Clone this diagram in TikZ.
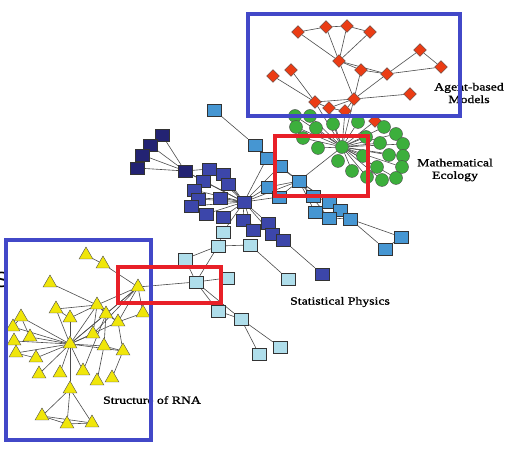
\documentclass[tikz,border=0pt]{standalone}
\usepackage{fontspec}
\setmainfont{Liberation Serif}
\newfontfamily\labelfont[FakeStretch=1.25,FakeBold=1.2]{Liberation Serif}
\newfontfamily\slidefont{Liberation Sans}
\usetikzlibrary{shapes.geometric,backgrounds}
\definecolor{boxblue}{RGB}{66,72,200}
\definecolor{boxred}{RGB}{232,32,40}
\definecolor{agentred}{RGB}{235,60,20}
\definecolor{ecogreen}{RGB}{60,175,60}
\definecolor{navyblue}{RGB}{35,35,115}
\definecolor{midblue}{RGB}{60,70,170}
\definecolor{skyblue}{RGB}{70,150,210}
\definecolor{paleblue}{RGB}{175,222,235}
\definecolor{rnayellow}{RGB}{240,230,10}

\begin{document}
\begin{tikzpicture}[x=1pt,y=-1pt,
    agent/.style={diamond,draw=black!70,fill=agentred,minimum size=13pt,inner sep=0pt},
    eco/.style={circle,draw=black!70,fill=ecogreen,minimum size=13pt,inner sep=0pt},
    sq/.style={rectangle,draw=black!80,minimum width=14pt,minimum height=12pt,inner sep=0pt},
    rna/.style={regular polygon,regular polygon sides=3,draw=black!70,fill=rnayellow,minimum size=16pt,inner sep=0pt},
    link/.style={draw=black!70,line width=0.6pt},
    area/.style={draw=boxblue,line width=4pt},
    zoomed/.style={draw=boxred,line width=4pt},
    field/.style={font=\labelfont\fontsize{11}{12.5}\selectfont,align=center}]
    \useasboundingbox (0,0) rectangle (507,462);

    % Agent-based models
    \foreach \name/\x/\y in {a1/298/32,a2/326/27,a3/347/26,a4/370/32,a5/339/61,
        a6/420/50,a7/441/67,a8/361/70,a9/387/74,a10/273/76,a11/291/70,
        a12/410/94,a13/315/102,a14/354/99,a15/329/108,a16/345/111,a17/375/121}
        \node[agent] (\name) at (\x,\y) {};

    % Mathematical ecology
    \node[eco] (e0) at (342,147) {};
    \foreach \name/\x/\y in {e1/295/116,e2/310/116,e3/296/127,e4/316/128,e5/333/124,
        e6/358/122,e7/303/138,e8/384/127,e9/396/134,e10/366/137,e11/318/148,
        e12/380/143,e13/403/144,e14/389/155,e15/403/156,e16/363/156,e17/338/161,
        e18/377/167,e19/402/167,e20/352/171,e21/367/177,e22/382/180,e23/396/178}
        \node[eco] (\name) at (\x,\y) {};

    % Statistical physics
    \foreach \name/\x/\y in {s1/214/110,s2/255/145,s3/267/158,s4/280/166,s5/299/181,
        s6/268/187,s7/279/197,s8/313/196,s9/329/202,s10/340/210,s11/315/212,
        s12/329/218,s13/350/219,s14/401/237,s15/385/249}
        \node[sq,fill=skyblue] (\name) at (\x,\y) {};
    \foreach \name/\x/\y in {n1/162/135,n2/150/145,n3/142/155,n4/137/168,n5/185/171}
        \node[sq,fill=navyblue] (\name) at (\x,\y) {};
    \foreach \name/\x/\y in {m0/244/202,m1/209/169,m2/223/174,m3/203/181,m4/228/184,
        m5/194/190,m6/198/199,m7/220/198,m8/191/206,m9/206/214,m10/223/217,
        m11/243/220,m12/253/230,m13/268/223,m14/272/234,m15/283/240,m16/322/274}
        \node[sq,fill=midblue] (\name) at (\x,\y) {};
    \foreach \name/\x/\y in {l1/223/232,l2/218/246,l3/250/245,l4/185/259,l5/196/282,
        l6/227/278,l7/288/279,l8/218/311,l9/241/319,l10/280/347,l11/259/354}
        \node[sq,fill=paleblue] (\name) at (\x,\y) {};

    % Structure of RNA
    \foreach \name/\x/\y in {r1/86/255,r2/103/264,r3/138/287,r4/50/283,r5/97/305,
        r6/56/309,r7/70/318,r8/106/314,r9/118/322,r10/143/313,r11/21/317,
        r12/13/327,r13/30/337,r14/93/334,r15/14/341,r16/70/344,r17/16/353,
        r18/36/358,r19/104/346,r20/123/351,r21/39/374,r22/60/373,r23/83/371,
        r24/97/381,r25/112/378,r26/70/389,r27/42/416,r28/67/424,r29/92/423}
        \node[rna] (\name) at (\x,\y) {};

    \begin{scope}[on background layer]
        \fill[white] (0,0) rectangle (507,462);
        \foreach \u/\v in {a1/a5,a2/a5,a3/a5,a4/a5,a1/a2,a2/a3,a3/a4,a5/a8,a5/a9,
            a8/a9,a9/a6,a6/a7,a9/a7,a5/a14,a8/a14,a9/a14,a10/a13,a11/a13,a13/a14,
            a14/a12,a13/a15,a15/a16,a14/a16,a14/a15,a13/e0,a14/e0,a16/e0,a17/e0,a15/e0}
            \draw[link] (\u) -- (\v);
        \foreach \v in {1,...,23}
            \draw[link] (e0) -- (e\v);
        \foreach \u/\v in {e0/s5,s1/s2,s2/s3,s3/s5,s4/s5,s6/s5,s7/s5,s8/s5,s9/s5,
            s10/s5,s11/s5,s12/s5,s8/s9,s9/s10,s10/s13,s12/s13,s13/s14,s13/s15,
            s14/s15,m0/s3,m0/s4,m0/s5,m0/s6,m0/s7}
            \draw[link] (\u) -- (\v);
        \foreach \u/\v in {n1/n5,n2/n5,n3/n5,n4/n5,n1/n3,n1/n4,n5/m0,n5/m1,n5/m3,
            m0/m1,m0/m2,m0/m3,m0/m4,m0/m5,m0/m6,m0/m7,m0/m8,m0/m9,m0/m10,m0/m11,
            m0/m12,m0/m13,m0/m14,m1/m2,m3/m5,m6/m7,m14/m15,m15/m16,m0/l1}
            \draw[link] (\u) -- (\v);
        \foreach \u/\v in {l1/l2,l2/l3,l2/l5,l4/l2,l4/l5,l3/l7,l5/l6,l5/l8,l5/l9,
            l8/l9,l9/l10,l9/l11,l5/r3}
            \draw[link] (\u) -- (\v);
        \foreach \u/\v in {r1/r2,r2/r3,r4/r5,r5/r3,r5/r6,r5/r7,r5/r8,r5/r9,r5/r14,
            r3/r8,r3/r9,r3/r10,r3/r16,r8/r9,r8/r19,r9/r20,r6/r7,r11/r13,r11/r12,
            r18/r17,r19/r20,r23/r8,r24/r19,r25/r20,r26/r27,r26/r28,r26/r29,
            r27/r28,r28/r29,r27/r29,r3/r14,r10/r9}
            \draw[link] (\u) -- (\v);
        \foreach \v in {5,6,7,8,9,11,12,13,14,15,17,18,19,20,21,22,23,26}
            \draw[link] (r16) -- (r\v);
    \end{scope}

    % labels
    \node[field] (agentlbl) at (469,93) {Agent-based\\Models};
    \node[field] (ecolbl) at (455,170) {Mathematical\\Ecology};
    \node[field] (physlbl) at (340,302) {Statistical Physics};
    \node[field] (rnalbl) at (152,400) {Structure of RNA};
    \node[font=\slidefont\fontsize{22}{24}\selectfont,anchor=east,inner sep=0pt] (cut) at (9,280) {S};

    % highlight boxes
    \draw[area] (248,14) rectangle (460,116);
    \draw[area] (6,240) rectangle (151,440);
    \draw[zoomed] (275,136) rectangle (368,196);
    \draw[zoomed] (118,267) rectangle (221,303);
\end{tikzpicture}
\end{document}
